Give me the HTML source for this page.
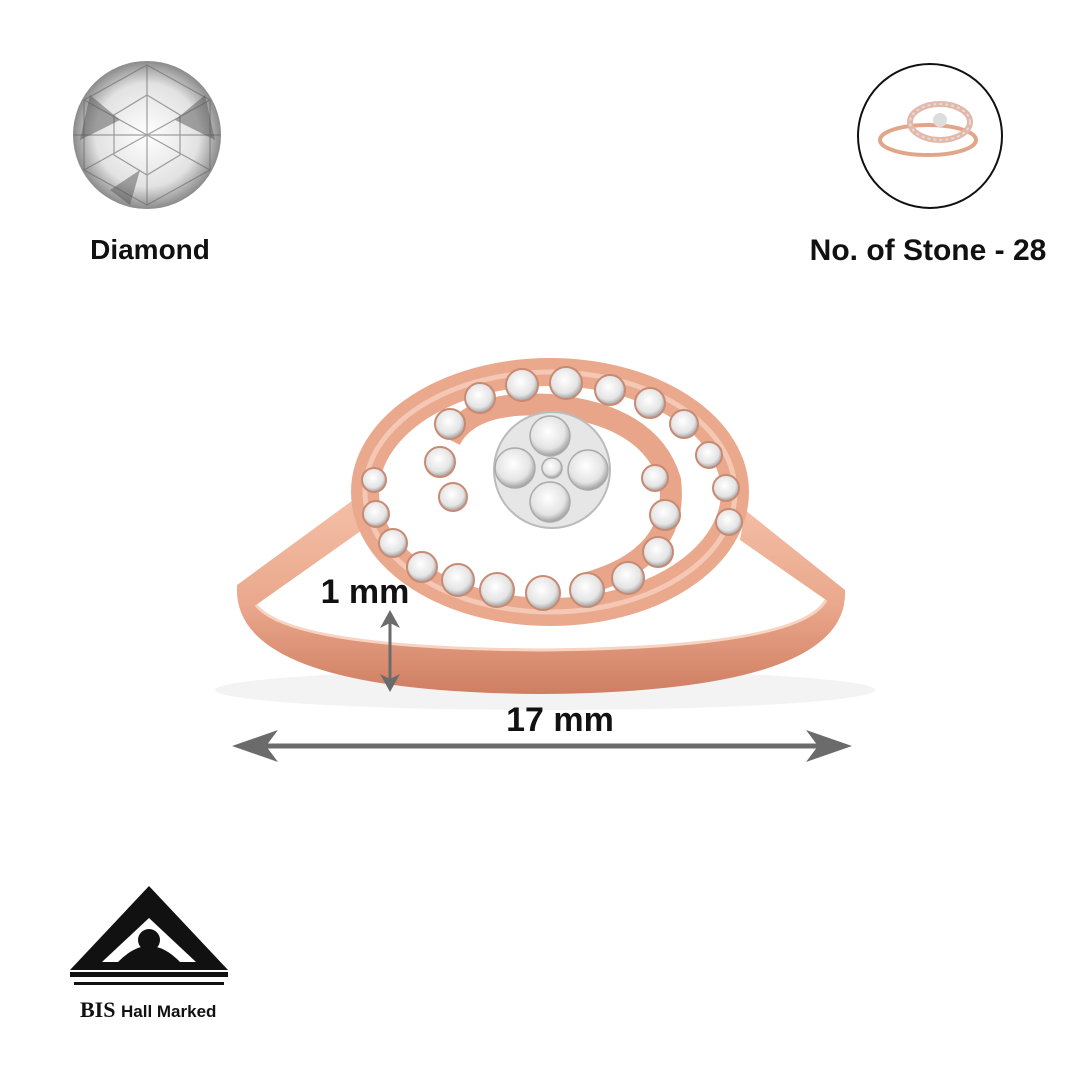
<!DOCTYPE html>
<html><head><meta charset="utf-8"><style>
html,body{margin:0;padding:0;background:#fff}
svg{display:block}
text{font-family:"Liberation Sans",sans-serif;font-weight:bold;fill:#111}
</style></head><body>
<svg width="1080" height="1080" viewBox="0 0 1080 1080" xmlns="http://www.w3.org/2000/svg">
<defs>
<radialGradient id="dia" cx="50%" cy="50%" r="50%">
<stop offset="0" stop-color="#ffffff"/><stop offset="0.7" stop-color="#e2e2e2"/><stop offset="1" stop-color="#8a8a8a"/>
</radialGradient>
<linearGradient id="gold" x1="0" y1="0" x2="0" y2="1">
<stop offset="0" stop-color="#f4c0a8"/><stop offset="0.55" stop-color="#eaa88c"/><stop offset="1" stop-color="#cf7e62"/>
</linearGradient>
<radialGradient id="stone" cx="45%" cy="40%" r="60%">
<stop offset="0" stop-color="#ffffff"/><stop offset="0.7" stop-color="#e4e4e4"/><stop offset="1" stop-color="#a0a0a0"/>
</radialGradient>
</defs>

<!-- diamond icon -->
<circle cx="147" cy="135" r="74" fill="url(#dia)"/>
<g stroke="#666" stroke-width="1.2" fill="none" opacity="0.6">
<polygon points="147,65 210,100 210,170 147,205 84,170 84,100"/>
<polygon points="147,95 180,115 180,155 147,175 114,155 114,115"/>
<line x1="147" y1="65" x2="147" y2="205"/><line x1="84" y1="100" x2="210" y2="170"/><line x1="210" y1="100" x2="84" y2="170"/>
<line x1="74" y1="135" x2="220" y2="135"/>
</g>
<path d="M90,95 L120,120 L80,140 Z M205,95 L175,120 L215,140 Z M110,190 L140,170 L130,205 Z" fill="#555" opacity="0.5"/>
<text x="150" y="259" font-size="28" text-anchor="middle">Diamond</text>

<!-- ring thumbnail -->
<circle cx="930" cy="136" r="72" fill="#fff" stroke="#111" stroke-width="2"/>
<ellipse cx="928" cy="140" rx="48" ry="15" fill="none" stroke="#e3a58a" stroke-width="4"/>
<ellipse cx="940" cy="122" rx="30" ry="18" fill="none" stroke="#e3b8a8" stroke-width="6"/>
<ellipse cx="940" cy="122" rx="30" ry="18" fill="none" stroke="#ddd" stroke-width="2" stroke-dasharray="3 3"/>
<circle cx="940" cy="120" r="7" fill="#ddd"/>
<text x="928" y="260" font-size="30" text-anchor="middle">No. of Stone - 28</text>

<!-- shadow -->
<ellipse cx="545" cy="690" rx="330" ry="20" fill="#eee" opacity="0.7"/>

<!-- ring band -->
<path d="M360,495 L237,585 Q230,692 540,694 Q850,692 845,590 L745,510 L740,540 L826,600 Q800,648 540,650 Q290,648 256,605 L365,528 Z" fill="url(#gold)"/>
<path d="M256,605 Q290,648 540,650 Q800,648 826,600" fill="none" stroke="#f7d3c2" stroke-width="3"/>
<!-- head -->
<ellipse cx="550" cy="492" rx="185" ry="120" fill="none" stroke="#eaa88c" stroke-width="28"/>
<ellipse cx="550" cy="492" rx="185" ry="120" fill="none" stroke="#f4c8b5" stroke-width="5"/>
<path d="M450,440 Q470,400 550,405 Q650,415 670,480 Q680,560 580,585" fill="none" stroke="#e9a58a" stroke-width="22"/>
<g fill="url(#stone)" stroke="#c88a72" stroke-width="2">
<circle cx="480" cy="398" r="15"/><circle cx="522" cy="385" r="16"/><circle cx="566" cy="383" r="16"/><circle cx="610" cy="390" r="15"/><circle cx="650" cy="403" r="15"/><circle cx="684" cy="424" r="14"/><circle cx="709" cy="455" r="13"/><circle cx="726" cy="488" r="13"/><circle cx="729" cy="522" r="13"/>
<circle cx="450" cy="424" r="15"/><circle cx="440" cy="462" r="15"/><circle cx="453" cy="497" r="14"/>
<circle cx="374" cy="480" r="12"/><circle cx="376" cy="514" r="13"/><circle cx="393" cy="543" r="14"/><circle cx="422" cy="567" r="15"/><circle cx="458" cy="580" r="16"/><circle cx="497" cy="590" r="17"/><circle cx="543" cy="593" r="17"/><circle cx="587" cy="590" r="17"/><circle cx="628" cy="578" r="16"/><circle cx="658" cy="552" r="15"/><circle cx="665" cy="515" r="15"/><circle cx="655" cy="478" r="13"/>
</g>
<circle cx="552" cy="470" r="58" fill="#e6e6e6" stroke="#bbb" stroke-width="2"/>
<g fill="url(#stone)" stroke="#aaa" stroke-width="1.5">
<circle cx="550" cy="436" r="20"/><circle cx="515" cy="468" r="20"/><circle cx="588" cy="470" r="20"/><circle cx="550" cy="502" r="20"/><circle cx="552" cy="468" r="10"/>
</g>

<!-- dimension arrows -->
<g stroke="#6b6b6b" fill="#6b6b6b">
<line x1="255" y1="746" x2="828" y2="746" stroke-width="5"/>
<polygon points="232,746 278,730 266,746 278,762" stroke="none"/>
<polygon points="852,746 806,730 818,746 806,762" stroke="none"/>
<line x1="390" y1="620" x2="390" y2="683" stroke-width="3"/>
<polygon points="390,610 380,628 390,623 400,628" stroke="none"/>
<polygon points="390,692 380,674 390,679 400,674" stroke="none"/>
</g>
<text x="560" y="731" font-size="34" text-anchor="middle">17 mm</text>
<text x="365" y="603" font-size="34" text-anchor="middle">1 mm</text>

<!-- BIS logo -->
<polygon points="149,886 228,970 70,970" fill="#111"/>
<polygon points="149,918 196,962 102,962" fill="#fff"/>
<circle cx="149" cy="940" r="11" fill="#111"/>
<path d="M118,962 Q149,930 180,962 Z" fill="#111"/>
<rect x="70" y="972" width="158" height="5" fill="#111"/>
<rect x="74" y="982" width="150" height="3" fill="#111"/>
<text x="80" y="1017" font-size="22" style="font-family:'Liberation Serif',serif">BIS</text>
<text x="121" y="1017" font-size="17">Hall Marked</text>
</svg>
</body></html>
